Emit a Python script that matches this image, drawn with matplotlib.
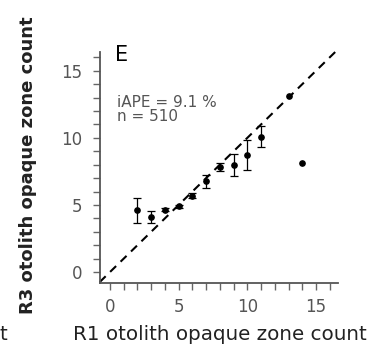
import numpy as np
import matplotlib.pyplot as plt
from matplotlib.ticker import MultipleLocator

plt.rcParams['font.family'] = ['DejaVu Sans']

# R1 count vs mean R3 count, with error bars
r1_count = [2, 3, 4, 5, 6, 7, 8, 9, 10, 11, 13, 14]
r3_mean = [4.6, 4.1, 4.65, 4.9, 5.7, 6.75, 7.8, 8.0, 8.75, 10.1, 13.1, 8.1]
r3_err = [0.95, 0.46, 0.12, 0.12, 0.2, 0.47, 0.3, 0.82, 1.12, 0.81, 0, 0]

panel = "E"
iape_text = "iAPE = 9.1 %"
n_text = "n = 510"

fig = plt.figure(figsize=(3.68, 3.45), dpi=100)
ax = fig.add_axes([0.2717, 0.1797, 0.6467, 0.6696])

ax.set_xlim(-0.73, 16.6)
ax.set_ylim(-0.82, 16.4)

# 1:1 line
ax.plot([-0.75, 16.5], [-0.75, 16.5], ls=(0, (4, 3)), color='black', lw=1.5,
        zorder=1, clip_on=False)

has_err = [e > 0 for e in r3_err]
xe = [x for x, h in zip(r1_count, has_err) if h]
ye = [y for y, h in zip(r3_mean, has_err) if h]
ee = [e for e, h in zip(r3_err, has_err) if h]
ax.errorbar(xe, ye, yerr=ee, fmt='o', color='black', ms=3.8,
            ecolor='black', elinewidth=0.9, capsize=3, capthick=0.9, zorder=3)
xn = [x for x, h in zip(r1_count, has_err) if not h]
yn = [y for y, h in zip(r3_mean, has_err) if not h]
ax.plot(xn, yn, 'o', color='black', ms=3.8, zorder=3)

ax.xaxis.set_major_locator(MultipleLocator(5))
ax.yaxis.set_major_locator(MultipleLocator(5))
ax.xaxis.set_minor_locator(MultipleLocator(1))
ax.yaxis.set_minor_locator(MultipleLocator(1))

for side in ['top', 'right']:
    ax.spines[side].set_visible(False)
for side in ['left', 'bottom']:
    ax.spines[side].set_color('#555555')
    ax.spines[side].set_linewidth(1.3)

ax.tick_params(which='both', direction='out', color='#666666', width=1,
               length=5, labelsize=12, labelcolor='#555555')
ax.tick_params(axis='x', pad=6)
ax.tick_params(axis='y', pad=8)

fig.text(219.5 / 368, 0.0145, "R1 otolith opaque zone count", fontsize=14.3,
         color='#222222', ha='center', va='baseline')
fig.text(28 / 368, 0.522, "R3 otolith opaque zone count", fontsize=13,
         color='#222222', fontweight='bold', rotation=90, ha='center', va='center')

ax.text(0.065, 1.03, panel, transform=ax.transAxes, fontsize=15, va='top', ha='left')
ax.text(0.07, 0.815, iape_text, transform=ax.transAxes, fontsize=11, va='top',
        ha='left', color='#555555')
ax.text(0.07, 0.755, n_text, transform=ax.transAxes, fontsize=11, va='top',
        ha='left', color='#555555')

# cut-off label from the neighbouring panel
fig.text(0.0, 0.0145, "t", fontsize=14.3, color='#222222', ha='left', va='baseline')

fig.savefig("out.png", dpi=100)
